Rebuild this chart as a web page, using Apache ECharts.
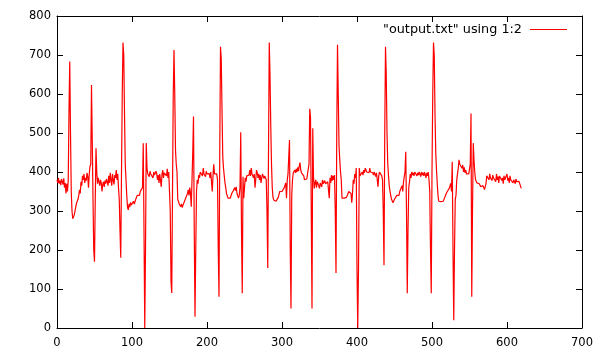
<!DOCTYPE html>
<html>
<head>
<meta charset="utf-8">
<script src="https://cdn.jsdelivr.net/npm/echarts@6/dist/echarts.min.js"></script>
<style>html,body{margin:0;padding:0;background:#fff}#c{width:600px;height:360px}</style>
</head>
<body>
<div id="c"></div>
<script>
// Signal samples, column 2 of output.txt; column 1 is the sample index (0,1,2,...)
const seg0 = [380,372,385,370,378,366,382,375,368,384, 360,372,345,370,350,380,560,683,500,350,
  300,280,277,290,300,310,320,318,330,340, 354,345,375,365,390,380,395,372,385,378,
  398,388,360,395,414,420,623,480,330,200, 170,330,461,400,370,385,375,365,380,372,
  350,368,375,362,378,370,382,375,365,390, 372,398,380,365,395,380,368,392,385,405,
  380,395,360,330,250,180,400,600,732,700, 550,420,380,340,310,303,318,310,322,315];
const seg1 = [320,312,325,318,322,330,325,340,335,345, 340,350,355,345,360,474,250,0,200,474,
  410,395,400,388,402,395,390,398,385,400, 392,388,402,395,380,392,372,395,390,362,
  395,405,385,398,395,400,390,408,385,400, 395,300,120,90,350,600,713,600,456,420,
  400,330,324,318,315,311,318,309,315,310, 325,320,335,330,345,354,340,360,345,311,
  380,450,542,250,29,200,350,380,370,392, 385,400,395,405,390,410,395,400,388,402];
const seg2 = [395,398,390,396,385,400,395,350,390,420, 395,400,390,395,380,200,80,450,721,690,
  560,440,410,390,372,360,345,340,333,333, 336,333,338,345,340,352,348,360,352,362,
  345,340,333,340,360,502,250,89,388,333, 360,385,375,390,385,395,392,405,390,410,
  395,400,385,395,360,380,405,398,385,395, 380,392,372,385,395,390,383,390,395,380,
  300,154,450,732,650,520,420,360,335,328, 326,328,325,330,328,335,340,350,345,355];
const seg3 = [350,355,348,360,362,372,333,380,395,400, 482,200,50,341,380,398,395,405,398,408,
  400,412,402,415,424,405,398,402,395,390, 380,385,378,382,380,385,420,562,540,300,
  50,512,388,358,372,380,360,375,370,365, 358,372,368,362,380,370,372,378,370,372,
  368,375,380,333,385,372,392,378,390,380, 392,300,141,500,726,600,470,431,401,380,
  333,333,333,333,333,333,335,333,338,350, 345,352,345,321,345,380,370,395,385,410];
const seg4 = [150,0,150,410,390,395,388,400,392,405, 398,410,414,400,395,405,398,410,400,395,
  405,398,392,400,395,388,398,380,362,390, 400,395,405,390,380,300,161,500,721,650,
  500,422,390,365,350,340,330,325,321,325, 330,335,330,340,335,345,340,350,345,354,
  365,350,375,388,400,452,300,89,250,360, 375,395,385,400,392,398,390,400,395,402,
  390,398,392,400,395,388,400,392,398,390, 400,395,385,398,390,400,380,350,200,89];
const seg5 = [400,600,732,700,550,450,405,370,340,325, 321,321,324,321,322,325,328,335,340,345,
  350,352,354,358,362,371,350,426,200,20, 200,330,340,380,395,410,431,420,415,422,
  410,418,400,412,398,405,395,400,390,395, 400,420,550,80,300,474,430,400,380,378,
  372,375,368,370,365,362,362,360,365,360, 355,350,370,390,385,392,380,395,385,390,
  378,392,385,380,390,375,395,380,388,372, 390,385,395,378,385,370,390,380,375,385];
const seg6 = [395,378,385,372,390,380,375,385,372,380, 378,370,382,375,378,380,376,378,372,358];

const signal = [].concat(seg0, seg1, seg2, seg3, seg4, seg5, seg6);
const seriesName = '"output.txt" using 1:2';
const xTicks = {min: 0, max: 700, interval: 100};
const yTicks = {min: 0, max: 800, interval: 100};

const chart = echarts.init(document.getElementById('c'), null, {renderer: 'canvas'});
const font = 'DejaVu Sans';
const axisCommon = {
  axisLine: {show: true, onZero: false, lineStyle: {color: '#000', width: 1}},
  axisTick: {show: true, inside: true, length: 6, lineStyle: {color: '#000'}},
  splitLine: {show: false},
};
chart.setOption({
  animation: false,
  backgroundColor: '#fff',
  grid: {left: 57, right: 18, top: 16, bottom: 32, containLabel: false},
  legend: {
    data: [{name: seriesName, icon: 'rect'}],
    right: 33, top: 23, padding: 0,
    align: 'right',
    itemWidth: 37, itemHeight: 1,
    textStyle: {color: '#000', fontFamily: font, fontSize: 12.8, padding: [0, 3, 0, 0]},
    selectedMode: false
  },
  xAxis: [
    Object.assign({type: 'value', position: 'bottom', min: xTicks.min, max: xTicks.max, interval: xTicks.interval,
      axisLabel: {color: '#000', fontFamily: font, fontSize: 11.5, margin: 9}}, axisCommon),
    Object.assign({type: 'value', position: 'top', min: xTicks.min, max: xTicks.max, interval: xTicks.interval,
      axisLabel: {show: false}}, axisCommon)
  ],
  yAxis: [
    Object.assign({type: 'value', position: 'left', min: yTicks.min, max: yTicks.max, interval: yTicks.interval,
      axisLabel: {color: '#000', fontFamily: font, fontSize: 11.5, margin: 6}}, axisCommon),
    Object.assign({type: 'value', position: 'right', min: yTicks.min, max: yTicks.max, interval: yTicks.interval,
      axisLabel: {show: false}}, axisCommon)
  ],
  series: [{
    name: seriesName,
    type: 'line',
    xAxisIndex: 0, yAxisIndex: 0,
    showSymbol: false,
    symbol: 'none',
    clip: true,
    lineStyle: {color: '#ff0000', width: 1.2},
    itemStyle: {color: '#ff0000'},
    data: signal.map((v, i) => [i, v])
  }]
});
</script>
</body>
</html>
